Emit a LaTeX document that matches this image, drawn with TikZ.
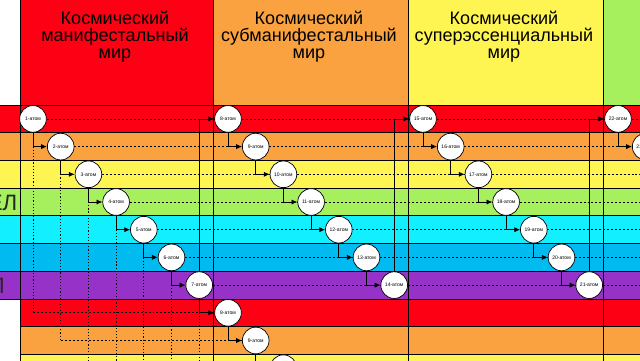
\documentclass[tikz,border=0pt]{standalone}
\usepackage{fontspec}
\setmainfont{Liberation Sans}
\usetikzlibrary{arrows.meta}

\definecolor{worldred}{RGB}{253,0,20}
\definecolor{worldorange}{RGB}{250,162,64}
\definecolor{worldyellow}{RGB}{255,245,82}
\definecolor{worldgreen}{RGB}{165,240,92}
\definecolor{worldcyan}{RGB}{18,240,255}
\definecolor{worldblue}{RGB}{0,186,240}
\definecolor{worldpurple}{RGB}{150,50,200}

\tikzset{
  atom/.style={circle,draw,fill=white,line width=0.6pt,minimum size=0.8cm,inner sep=0pt,font=\fontsize{4.3}{5}\selectfont},
  link/.style={-{Latex[length=5pt,width=4.4pt]},line width=0.65pt},
  level/.style={dash pattern=on 1.7pt off 1.7pt,line width=0.55pt},
  drop/.style={dash pattern=on 1pt off 1.7pt,line width=0.65pt},
  world/.style={anchor=north,align=center,inner sep=0pt,font=\fontsize{15.4}{14.5}\selectfont},
  band/.style={draw=black,line width=0.6pt}
}

\begin{document}
\begin{tikzpicture}[x=0.03cm,y=-0.03cm]
  \useasboundingbox (0,0) rectangle (640,360);
  \clip (0,0) rectangle (640,360);

  % headers
  \filldraw[band,fill=worldred] (20,-5) rectangle (213,105);
  \filldraw[band,fill=worldorange] (213,-5) rectangle (408,105);
  \filldraw[band,fill=worldyellow] (408,-5) rectangle (603,105);
  \filldraw[band,fill=worldgreen] (603,-5) rectangle (650,105);
  \node[world] (w1) at (115,11) {Космический\\манифестальный\\мир};
  \node[world] (w2) at (309,11) {Космический\\субманифестальный\\мир};
  \node[world] (w3) at (504,11) {Космический\\суперэссенциальный\\мир};

  % rows
  \filldraw[band,fill=worldred] (-5,105) rectangle (650,132.7);
  \filldraw[band,fill=worldorange] (-5,132.7) rectangle (650,160.4);
  \filldraw[band,fill=worldyellow] (-5,160.4) rectangle (650,188.1);
  \filldraw[band,fill=worldgreen] (-5,188.1) rectangle (650,215.8);
  \filldraw[band,fill=worldcyan] (-5,215.8) rectangle (650,243.5);
  \filldraw[band,fill=worldblue] (-5,243.5) rectangle (650,271.2);
  \filldraw[band,fill=worldpurple] (-5,271.2) rectangle (650,298.9);
  \filldraw[band,fill=worldred] (20,298.9) rectangle (650,326.6);
  \filldraw[band,fill=worldorange] (20,326.6) rectangle (650,354.3);
  \filldraw[band,fill=worldyellow] (20,354.3) rectangle (650,382);

  \node[anchor=east,inner sep=0pt,font=\fontsize{19}{19}\selectfont,text=black!85] (lab4) at (17.5,202.5) {ЕЛ};
  \node[anchor=east,inner sep=0pt,font=\fontsize{19}{19}\selectfont,text=black!85] (lab7) at (5,286) {Л};

  % column lines
  \draw[line width=0.6pt] (20,-5) -- (20,370);
  \draw[line width=0.6pt] (213,-5) -- (213,370);
  \draw[line width=0.6pt] (408,-5) -- (408,370);
  \draw[line width=0.6pt] (603,-5) -- (603,370);

  % atoms
  \node[atom] (a1) at (33,118.9) {1-атом};
  \node[atom] (a2) at (60.7,146.6) {2-атом};
  \node[atom] (a3) at (88.4,174.3) {3-атом};
  \node[atom] (a4) at (116.1,202) {4-атом};
  \node[atom] (a5) at (143.8,229.7) {5-атом};
  \node[atom] (a6) at (171.5,257.4) {6-атом};
  \node[atom] (a7) at (199.2,285.1) {7-атом};
  \node[atom] (a8) at (228,118.9) {8-атом};
  \node[atom] (a9) at (255.7,146.6) {9-атом};
  \node[atom] (a10) at (283.4,174.3) {10-атом};
  \node[atom] (a11) at (311.1,202) {11-атом};
  \node[atom] (a12) at (338.8,229.7) {12-атом};
  \node[atom] (a13) at (366.5,257.4) {13-атом};
  \node[atom] (a14) at (394.2,285.1) {14-атом};
  \node[atom] (a15) at (423,118.9) {15-атом};
  \node[atom] (a16) at (450.7,146.6) {16-атом};
  \node[atom] (a17) at (478.4,174.3) {17-атом};
  \node[atom] (a18) at (506.1,202) {18-атом};
  \node[atom] (a19) at (533.8,229.7) {19-атом};
  \node[atom] (a20) at (561.5,257.4) {20-атом};
  \node[atom] (a21) at (589.2,285.1) {21-атом};
  \node[atom] (a22) at (618,118.9) {22-атом};
  \node[atom] (a23) at (645.7,146.6) {23-атом};
  \node[atom] (b8) at (228,312.8) {8-атом};
  \node[atom] (b9) at (255.7,340.5) {9-атом};
  \node[atom] (b10) at (283.4,368.2) {10-атом};

  % row ends
  \coordinate (e1) at (650,118.9);
  \coordinate (e3) at (650,174.3);
  \coordinate (e4) at (650,202);
  \coordinate (e5) at (650,229.7);
  \coordinate (e6) at (650,257.4);
  \coordinate (e7) at (650,285.1);

  % levels
  \draw[level] (a1) -- (a8);
  \draw[level] (a8) -- (a15);
  \draw[level] (a15) -- (a22);
  \draw[level] (a22) -- (e1);
  \draw[level] (a2) -- (a9);
  \draw[level] (a9) -- (a16);
  \draw[level] (a16) -- (a23);
  \draw[level] (a3) -- (a10);
  \draw[level] (a10) -- (a17);
  \draw[level] (a17) -- (e3);
  \draw[level] (a4) -- (a11);
  \draw[level] (a11) -- (a18);
  \draw[level] (a18) -- (e4);
  \draw[level] (a5) -- (a12);
  \draw[level] (a12) -- (a19);
  \draw[level] (a19) -- (e5);
  \draw[level] (a6) -- (a13);
  \draw[level] (a13) -- (a20);
  \draw[level] (a20) -- (e6);
  \draw[level] (a7) -- (a14);
  \draw[level] (a14) -- (a21);
  \draw[level] (a21) -- (e7);

  % drops into the next block
  \draw[drop] (a1 |- a2) -- (a1 |- b8);
  \draw[level] (a1 |- b8) -- (b8);
  \draw[drop] (a2 |- a3) -- (a2 |- b9);
  \draw[level] (a2 |- b9) -- (b9);
  \draw[drop] (a3 |- a4) -- (a3 |- b10);
  \draw[level] (a3 |- b10) -- (b10);
  \draw[drop] (a4 |- a5) -- (116.1,370);
  \draw[drop] (a5 |- a6) -- (143.8,370);
  \draw[drop] (a6 |- a7) -- (171.5,370);
  \draw[drop] (a7 |- b8) -- (199.2,370);

  % links
  \draw[link] (a1) |- (a2);
  \draw[link] (a2) |- (a3);
  \draw[link] (a3) |- (a4);
  \draw[link] (a4) |- (a5);
  \draw[link] (a5) |- (a6);
  \draw[link] (a6) |- (a7);
  \draw[link] (a7) |- (a8);
  \draw[link] (a7) |- (b8);
  \draw[link] (a8) |- (a9);
  \draw[link] (a9) |- (a10);
  \draw[link] (a10) |- (a11);
  \draw[link] (a11) |- (a12);
  \draw[link] (a12) |- (a13);
  \draw[link] (a13) |- (a14);
  \draw[link] (a14) |- (a15);
  \draw[link] (a15) |- (a16);
  \draw[link] (a16) |- (a17);
  \draw[link] (a17) |- (a18);
  \draw[link] (a18) |- (a19);
  \draw[link] (a19) |- (a20);
  \draw[link] (a20) |- (a21);
  \draw[link] (a21) |- (a22);
  \draw[link] (a22) |- (a23);
  \draw[link] (b8) |- (b9);
  \draw[link] (b9) |- (b10);
\end{tikzpicture}
\end{document}
